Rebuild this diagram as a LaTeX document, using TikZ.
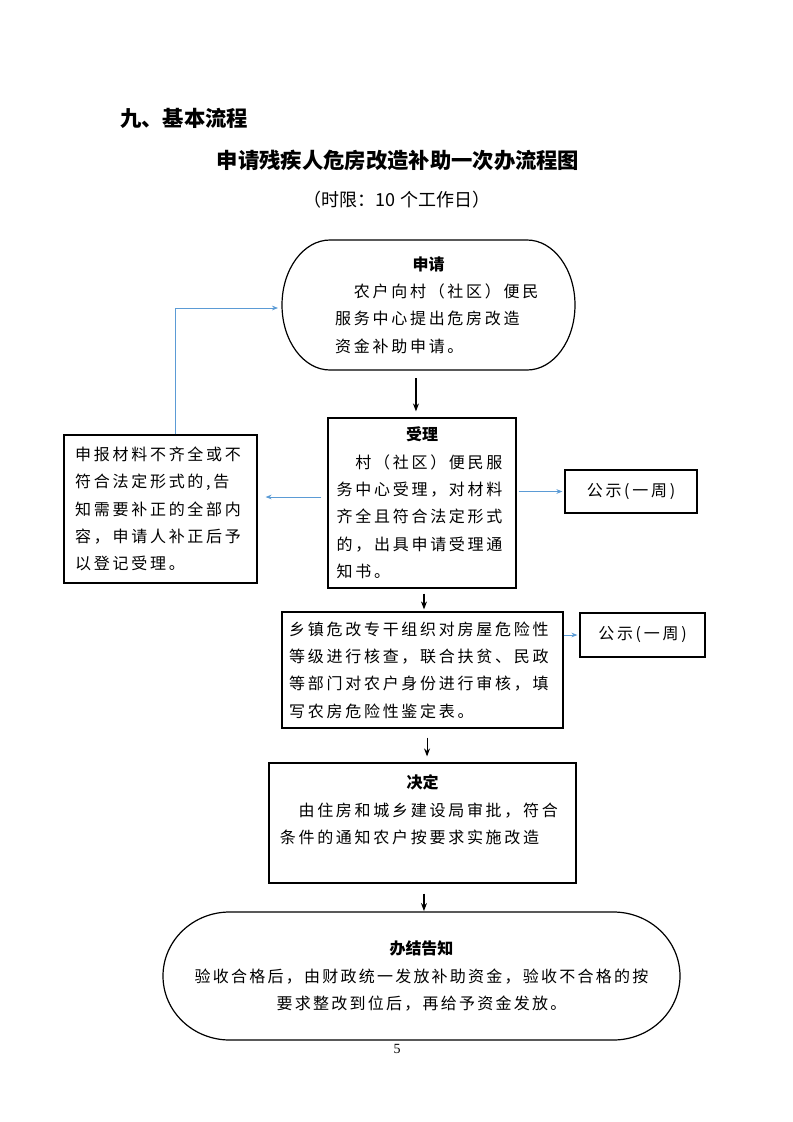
\documentclass[tikz,border=0pt]{standalone}
\usepackage{fontspec}
\setmainfont{Noto Sans CJK SC}
\newfontfamily\cjk[LetterSpace=17]{Noto Sans CJK SC}
\newfontfamily\cjknarrow[LetterSpace=14]{Noto Sans CJK SC}
\newfontfamily\cjkplain{Noto Sans CJK SC}
\newfontfamily\pagefont{Liberation Serif}
\usetikzlibrary{arrows.meta,positioning}
\definecolor{linkblue}{RGB}{91,155,213}
\tikzstyle{box}=[draw, line width=0.9pt, inner sep=0pt, align=left, font=\cjk\fontsize{12pt}{20.5pt}\selectfont]
\tikzstyle{stadium}=[box, draw=none, outer sep=0pt]
\tikzstyle{flow}=[-{Stealth[length=6pt,width=4.5pt]}, line width=0.8pt]
\tikzstyle{back}=[-{Stealth[length=4.5pt,width=3.5pt]}, linkblue, line width=0.6pt]
\newcommand{\head}[1]{\makebox[\linewidth]{\cjkplain\bfseries #1}}
% outline with half-ellipse ends round a node: name, x radius, y radius
\newcommand{\ovalshape}[3]{\draw[line width=0.9pt] ([xshift=#2]#1.north west) -- ([xshift=-#2]#1.north east)
  arc[start angle=90, end angle=-90, x radius=#2, y radius=#3] -- ([xshift=#2]#1.south west)
  arc[start angle=270, end angle=90, x radius=#2, y radius=#3] -- cycle;}

\begin{document}
\begin{tikzpicture}[x=0.75pt, y=-0.75pt]
  \useasboundingbox (0,0) rectangle (793,1122);
  % headings
  \node[font=\cjkplain\bfseries\fontsize{16pt}{19pt}\selectfont, anchor=west, inner sep=0pt] (section) at (120,118) {九、基本流程};
  \node[font=\cjkplain\bfseries\fontsize{16pt}{19pt}\selectfont, inner sep=0pt] (title) at (398,160) {申请残疾人危房改造补助一次办流程图};
  \node[font=\cjkplain\fontsize{13.5pt}{16pt}\selectfont, inner sep=0pt] (limit) at (397,200) {（时限：10 个工作日）};
  % steps
  \node[stadium, minimum width=219.75pt, minimum height=97.5pt, text width=140pt] (apply) at (428.5,305)
    {\head{申请}\\　农户向村（社区）便民\\服务中心提出危房改造\\资金补助申请。};
  \ovalshape{apply}{36pt}{48.75pt}
  \node[box, minimum width=141pt, minimum height=127.5pt, text width=128pt] (accept) at (422,503)
    {\head{受理}\\　村（社区）便民服\\务中心受理，对材料\\齐全且符合法定形式\\的，出具申请受理通\\知书。};
  \node[box, minimum width=144.75pt, minimum height=111pt, text width=128pt] (lack) at (160.5,509)
    {申报材料不齐全或不\\符合法定形式的,告\\知需要补正的全部内\\容，申请人补正后予\\以登记受理。};
  \node[box, minimum width=99pt, minimum height=32.25pt] (notice1) at (631,491.5) {公示(一周)};
  \node[box, minimum width=210.75pt, minimum height=87pt, text width=200pt] (check) at (422.5,670)
    {乡镇危改专干组织对房屋危险性\\等级进行核查，联合扶贫、民政\\等部门对农户身份进行审核，填\\写农房危险性鉴定表。};
  \node[box, minimum width=93.75pt, minimum height=33pt] (notice2) at (642.5,635) {公示(一周)};
  \node[box, minimum width=230.25pt, minimum height=90pt, text width=214pt] (decide) at (422.5,823)
    {\head{决定}\\　由住房和城乡建设局审批，符合\\条件的通知农户按要求实施改造\\\mbox{}};
  \node[stadium, align=center, minimum width=387.75pt, minimum height=96pt, text width=352pt,
        font=\cjknarrow\fontsize{12pt}{20.5pt}\selectfont] (notify) at (421.5,976)
    {{\cjkplain\bfseries 办结告知}\\验收合格后，由财政统一发放补助资金，验收不合格的按\\要求整改到位后，再给予资金发放。};
  \ovalshape{notify}{50pt}{48pt}
  \node[font=\pagefont\fontsize{10.5pt}{12pt}\selectfont, inner sep=0pt] (page) at (397,1049) {5};
  % main flow
  \coordinate (a1) at ([xshift=-9.4pt]apply.south);
  \draw[flow, shorten <=6pt, shorten >=4.5pt] (a1) -- (a1 |- accept.north);
  \coordinate (a2) at ([xshift=1.5pt]accept.south);
  \draw[flow, shorten <=3.75pt, shorten >=1.5pt] (a2) -- (a2 |- check.north);
  \coordinate (a3) at ([xshift=3.4pt]check.south);
  \draw[flow, shorten <=6.75pt, shorten >=4.5pt] (a3) -- (a3 |- decide.north);
  \coordinate (a4) at ([xshift=1.1pt]decide.south);
  \draw[flow, shorten <=7.5pt, shorten >=0.75pt] (a4) -- (a4 |- notify.north);
  % side links
  \coordinate (backy) at ([yshift=4.5pt]accept.west);
  \draw[back, shorten <=4.5pt, shorten >=6pt] (backy) -- (backy -| lack.east);
  \coordinate (loopstart) at ([xshift=10.9pt]lack.north);
  \coordinate (loopend) at ([yshift=-2.25pt]apply.west);
  \draw[back, shorten >=3pt] (loopstart) |- (loopend);
  \draw[back, shorten <=1.5pt, shorten >=1.5pt] (accept.east |- notice1.west) -- (notice1.west);
  \draw[back, shorten >=1.5pt] (check.east |- notice2.west) -- (notice2.west);
\end{tikzpicture}
\end{document}
